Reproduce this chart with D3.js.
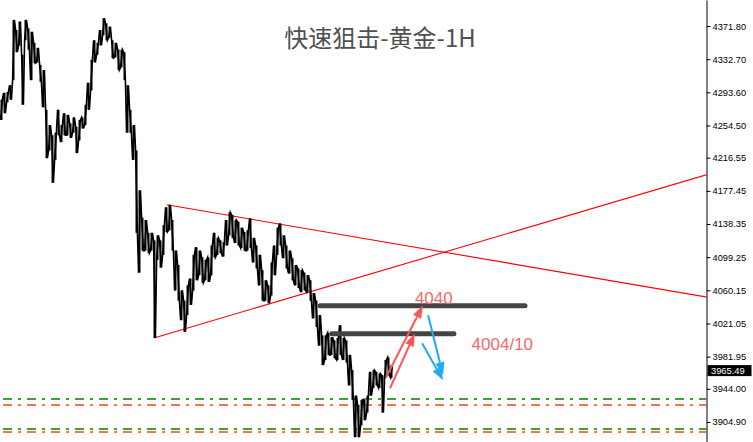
<!DOCTYPE html>
<html><head><meta charset="utf-8">
<script src="https://cdn.jsdelivr.net/npm/d3@7"></script>
<style>body{margin:0;background:#fff}svg{display:block}</style>
</head><body>
<svg id="c" width="753" height="442"></svg>
<script>
// ---- data ----
const title = "快速狙击-黄金-1H";
const highs = [4285,4293,4294,4302,4379,4367,4377,4338,4379,4369,4365,4352,4346,4326,4320,4273,4255,4243,4246,4273,
4255,4269,4267,4257,4264,4253,4261,4264,4279,4305,4332,4355,4352,4367,4381,4375,4371,4355,4352,4344,
4344,4341,4302,4273,4255,4225,4178,4146,4143,4128,4128,4119,4125,4119,4137,4158,4161,4143,4107,4090,
4060,4048,4066,4074,4102,4111,4107,4099,4096,4099,4113,4128,4122,4119,4117,4143,4152,4149,4143,4141,
4134,4129,4131,4145,4122,4113,4102,4084,4072,4066,4093,4113,4134,4139,4125,4113,4107,4098,4090,4086,
4084,4081,4078,4072,4057,4048,4031,4007,4007,4010,4005,4001,4004,4019,4004,4001,3984,3966,3936,3925,
3931,3931,3936,3964,3966,3964,3962,3960,3978,3981,3972];
const lows = [4261,4269,4282,4285,4308,4341,4349,4279,4355,4344,4308,4328,4329,4306,4276,4216,4225,4187,4214,4243,
4235,4243,4243,4240,4246,4222,4237,4251,4255,4273,4296,4329,4338,4349,4361,4355,4358,4334,4335,4320,
4323,4308,4246,4246,4214,4128,4081,4107,4107,4104,4107,4004,4096,4087,4102,4129,4131,4107,4060,4048,
4025,4011,4031,4043,4060,4072,4078,4069,4072,4070,4078,4099,4102,4104,4100,4113,4125,4122,4116,4113,
4110,4107,4107,4110,4093,4086,4066,4048,4048,4045,4054,4078,4102,4113,4098,4086,4080,4072,4066,4063,
4058,4060,4058,4048,4027,4017,3995,3972,3978,3984,3984,3980,3978,3984,3978,3975,3948,3931,3887,3887,
3901,3907,3916,3936,3945,3948,3945,3916,3957,3960,3957];
const lastPrice = 3965.49;
const tickValues = [4371.80,4332.70,4293.60,4254.50,4216.55,4177.45,4138.35,4099.25,4060.15,4021.05,3981.95,3944.00,3904.90];
// trendlines as [barIndex, price]
const upperTrend = [[55.1,4161],[235.5,4052]];
const lowerTrend = [[50.8,4004],[235.5,4197]];
// horizontal levels (thick bars)
const levelPrices = [4042, 4009];
const levelFrom = [106.2, 110.1];
const levelTo = [174.5, 150.8];
// dash-dot support lines
const greenLevels = [3932.5, 3897.1];
const orangeLevels = [3924.6, 3893.1];
// arrows [[i0,p0],[i1,p1]]
const redArrows = [[[128.2,3957.6],[140.5,4042.6]], [[129.5,3944.7],[137.8,4009.6]]];
const blueArrows = [[[142.2,4030.8],[147.2,3960]], [[140.2,3997.8],[147.2,3954.1]]];
// annotation texts
const notes = [{t:"4040", i:137.8, p:4044}, {t:"4004/10", i:156.7, p:3990.3}];

// ---- chart ----
const W = 753, H = 442, axisX = 706.5;
const svg = d3.select("#c");
const x = d3.scaleLinear().domain([0, 130]).range([1.5, 391.5]);
const y = d3.scaleLinear().domain([3881.3, 4402.5]).range([H, 0]);

svg.append("defs").append("clipPath").attr("id","plot")
  .append("rect").attr("x",0).attr("y",0).attr("width",axisX).attr("height",H);
const g = svg.append("g").attr("clip-path","url(#plot)");

// title
svg.append("text").attr("x",380).attr("y",47).attr("text-anchor","middle")
  .attr("font-family","'Noto Sans CJK SC','Noto Sans',sans-serif").attr("font-size",24)
  .attr("fill","#505050").text(title);

// dash-dot lines
const dd = (arr, col) => g.selectAll(null).data(arr).enter().append("line")
  .attr("x1",3).attr("x2",axisX).attr("y1",d=>Math.round(y(d))).attr("y2",d=>Math.round(y(d)))
  .attr("stroke",col).attr("stroke-width",1.6).attr("stroke-dasharray","9,6,3,6");
dd(greenLevels,"#008000");
dd(orangeLevels,"#ff4500");

// trendlines
const tl = d3.line().x(d=>x(d[0])).y(d=>y(d[1]));
[upperTrend, lowerTrend].forEach(t => g.append("path").attr("d",tl(t))
  .attr("fill","none").attr("stroke","#ff0000").attr("stroke-width",1.1));

// price bars
g.selectAll(".bar").data(highs).enter().append("line").attr("class","bar")
  .attr("x1",(d,i)=>x(i)).attr("x2",(d,i)=>x(i))
  .attr("y1",d=>y(d)).attr("y2",(d,i)=>y(lows[i]))
  .attr("stroke","#000").attr("stroke-width",2);
// zig-zag connector between bars (dense hourly look)
const zz = [];
highs.forEach((h,i)=>{
  if(i%2===0){ zz.push([i-0.3,lows[i]]); zz.push([i+0.3,h]); }
  else { zz.push([i-0.3,h]); zz.push([i+0.3,lows[i]]); }
});
g.append("path").attr("d",d3.line().x(d=>x(d[0])).y(d=>y(d[1]))(zz))
  .attr("fill","none").attr("stroke","#000").attr("stroke-width",1.6).attr("stroke-linejoin","miter");

// level bars
g.selectAll(".lvl").data(levelPrices).enter().append("line").attr("class","lvl")
  .attr("x1",(d,i)=>x(levelFrom[i])).attr("x2",(d,i)=>x(levelTo[i]))
  .attr("y1",d=>y(d)).attr("y2",d=>y(d))
  .attr("stroke","#444").attr("stroke-width",5).attr("stroke-linecap","round");

// arrows
function arrow(a, col){
  const x0=x(a[0][0]), y0=y(a[0][1]), x1=x(a[1][0]), y1=y(a[1][1]);
  const ang=Math.atan2(y1-y0,x1-x0), L=13, Wd=4.5;
  const bx=x1-L*Math.cos(ang), by=y1-L*Math.sin(ang);
  g.append("line").attr("x1",x0).attr("y1",y0).attr("x2",bx).attr("y2",by)
    .attr("stroke",col).attr("stroke-width",2);
  const px=-Math.sin(ang)*Wd, py=Math.cos(ang)*Wd;
  g.append("path").attr("d",`M${x1},${y1}L${bx+px},${by+py}L${bx-px},${by-py}Z`).attr("fill",col);
}
redArrows.forEach(a=>arrow(a,"#ff5555"));
blueArrows.forEach(a=>arrow(a,"#22aaee"));

// notes
svg.selectAll(".note").data(notes).enter().append("text").attr("class","note")
  .attr("x",d=>x(d.i)).attr("y",d=>y(d.p)).attr("font-family","'Liberation Sans',Arial,sans-serif")
  .attr("font-size",17).attr("fill","#f26b6b").text(d=>d.t);

// axis
const ax = svg.append("g").attr("transform",`translate(${axisX},0)`)
  .call(d3.axisRight(y).tickValues(tickValues).tickSize(4).tickSizeOuter(0).tickPadding(2).tickFormat(d=>d.toFixed(2)));
ax.select(".domain").attr("stroke","#000");
ax.selectAll("text").attr("font-family","'Liberation Sans',Arial,sans-serif").attr("font-size",9.3).attr("fill","#000");
ax.selectAll(".tick line").attr("stroke","#000");

// last price label
const ly = y(lastPrice);
svg.append("rect").attr("x",axisX+1).attr("y",ly-5.5).attr("width",44).attr("height",11).attr("fill","#000");
svg.append("text").attr("x",axisX+4.5).attr("y",ly).attr("dy","0.35em")
  .attr("font-family","'Liberation Sans',Arial,sans-serif").attr("font-size",9.3).attr("fill","#fff")
  .text(lastPrice.toFixed(2));
</script>
</body></html>
